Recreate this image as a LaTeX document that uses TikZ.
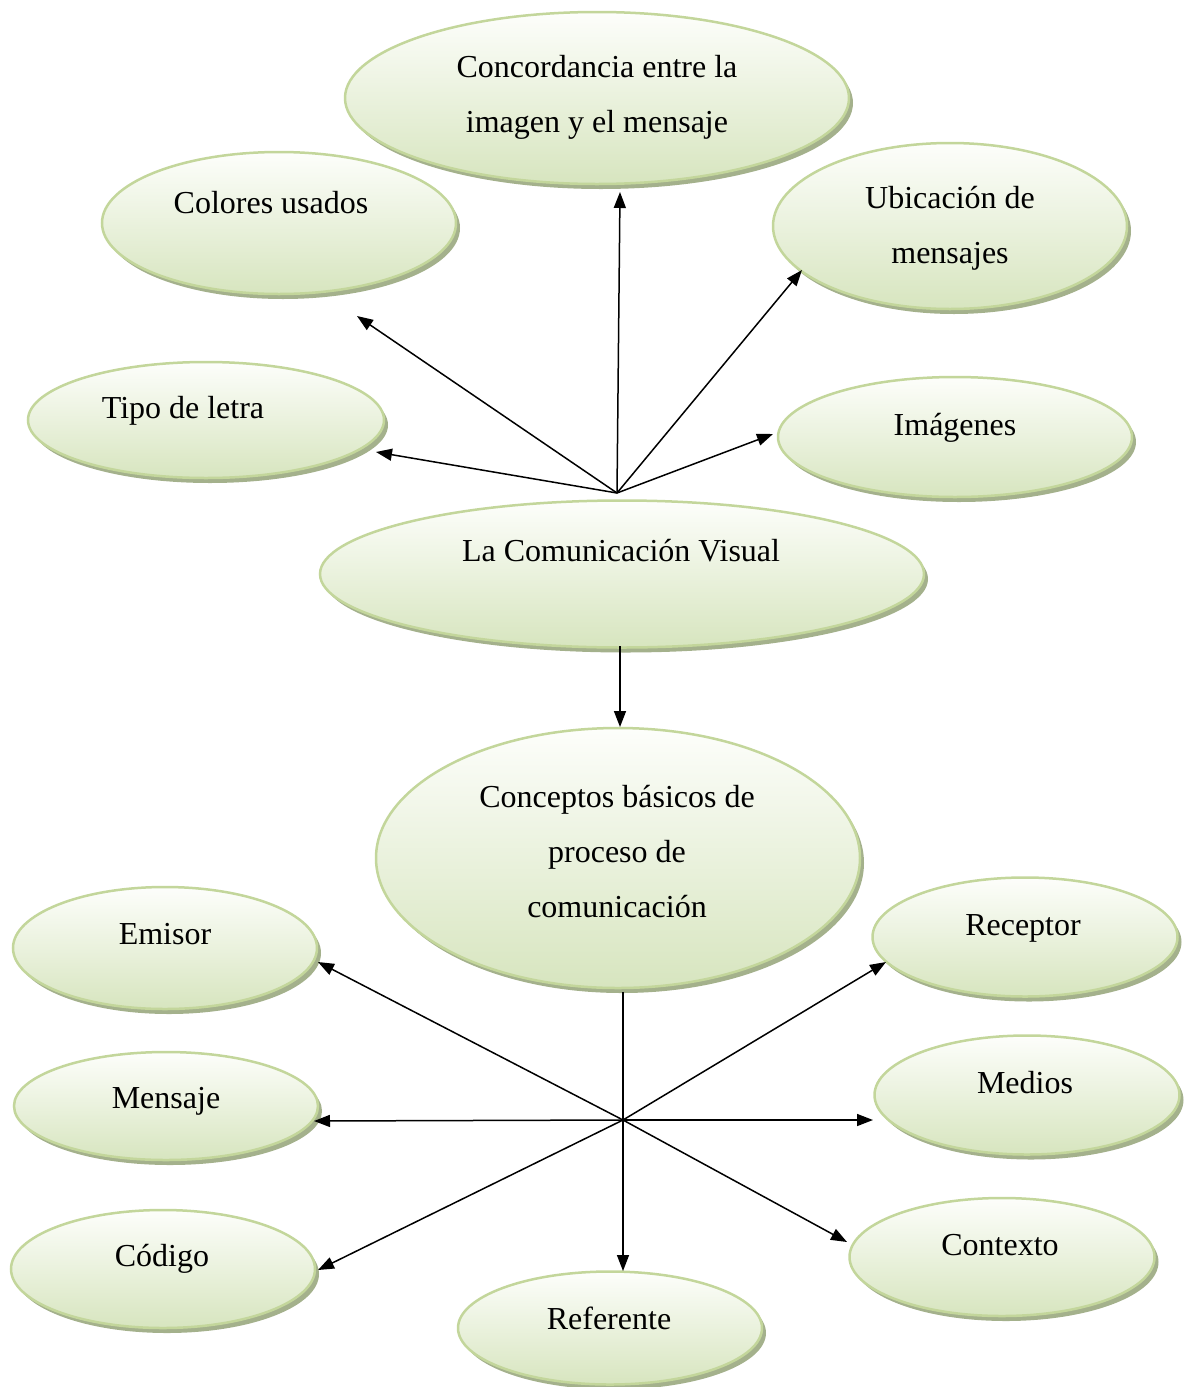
\documentclass[tikz,border=0pt]{standalone}
\usepackage{fontspec}
\setmainfont{Liberation Serif}
\usepackage{xcolor}
\definecolor{bubtop}{HTML}{FDFEFB}
\definecolor{bubbot}{HTML}{D7E5BF}
\definecolor{bubedge}{HTML}{C3D69B}
\definecolor{bubshade}{HTML}{A4B18C}
\usepackage{tikz}
\usetikzlibrary{shapes.geometric, arrows.meta, shadows}

\begin{document}
\begin{tikzpicture}[x=1pt, y=-1pt,
  bubble/.style={ellipse, draw=bubedge, line width=2.5pt, inner sep=0pt,
    top color=bubtop, bottom color=bubbot,
    drop shadow={shadow xshift=4pt, shadow yshift=-5pt, fill=bubshade, opacity=1}},
  txt/.style={align=center, font=\fontsize{32}{55}\selectfont, inner sep=0pt},
  arrow/.style={-{Triangle[length=16pt, width=12pt]}, line width=1.5pt, black}
]
\useasboundingbox (0,0) rectangle (1184,1387);

% upper group
\node[bubble, minimum width=504pt, minimum height=172pt] (conc) at (597,98) {};
\node[txt] (concT) at (597,97) {Concordancia entre la\\imagen y el mensaje};
\node[bubble, minimum width=354pt, minimum height=142pt] (colores) at (279,223) {};
\node[txt] (coloresT) at (271,203) {Colores usados};
\node[bubble, minimum width=354pt, minimum height=166pt] (ubic) at (950,226) {};
\node[txt] (ubicT) at (950,228) {Ubicación de\\mensajes};
\node[bubble, minimum width=356pt, minimum height=116pt] (tipo) at (206,420) {};
\node[txt] (tipoT) at (183,411) {Tipo de letra};
\node[bubble, minimum width=354pt, minimum height=120pt] (imag) at (955,437) {};
\node[txt] (imagT) at (955,428) {Imágenes};

\node[bubble, minimum width=604pt, minimum height=147pt] (comvis) at (622,574) {};
\node[txt] (comvisT) at (621,551) {La Comunicación Visual};

% lower group
\node[bubble, minimum width=484pt, minimum height=260pt] (concep) at (618,858) {};
\node[txt] (concepT) at (617,852) {Conceptos básicos de\\proceso de\\comunicación};
\node[bubble, minimum width=304pt, minimum height=122pt] (emisor) at (165,948) {};
\node[txt] (emisorT) at (165,934) {Emisor};
\node[bubble, minimum width=305pt, minimum height=119pt] (recep) at (1025,937) {};
\node[txt] (recepT) at (1023,928) {Receptor};
\node[bubble, minimum width=304pt, minimum height=108pt] (mensaje) at (166,1106) {};
\node[txt] (mensajeT) at (166,1101) {Mensaje};
\node[bubble, minimum width=305pt, minimum height=119pt] (medios) at (1027,1095) {};
\node[txt] (mediosT) at (1025,1083) {Medios};
\node[bubble, minimum width=304pt, minimum height=118pt] (codigo) at (163,1269) {};
\node[txt] (codigoT) at (162,1259) {Código};
\node[bubble, minimum width=305pt, minimum height=118pt] (contexto) at (1002,1257) {};
\node[txt] (contextoT) at (1000,1245) {Contexto};
\node[bubble, minimum width=304pt, minimum height=113pt] (refer) at (610,1328) {};
\node[txt] (referT) at (609,1318) {Referente};

% hubs and arrow ends
\coordinate (hubup) at (617,493);
\coordinate (hublow) at (623,1120);
\coordinate (concIn) at (620,192);
\coordinate (coloresIn) at (357,316);
\coordinate (ubicIn) at (802,270);
\coordinate (tipoIn) at (376,452);
\coordinate (imagIn) at (773,434);
\coordinate (comvisOut) at (620,646);
\coordinate (concepIn) at (620,727);
\coordinate (concepOut) at (623,992);
\coordinate (emisorIn) at (318,962);
\coordinate (recepIn) at (886,962);
\coordinate (mensajeIn) at (314,1121);
\coordinate (mediosIn) at (873,1120);
\coordinate (codigoIn) at (318,1270);
\coordinate (contextoIn) at (847,1242);
\coordinate (referIn) at (623,1271);

\draw[arrow] (hubup) -- (concIn);
\draw[arrow] (hubup) -- (coloresIn);
\draw[arrow] (hubup) -- (ubicIn);
\draw[arrow] (hubup) -- (tipoIn);
\draw[arrow] (hubup) -- (imagIn);
\draw[arrow] (comvisOut) -- (concepIn);
\draw[line width=1.5pt] (concepOut) -- (hublow);
\draw[arrow] (hublow) -- (emisorIn);
\draw[arrow] (hublow) -- (recepIn);
\draw[arrow] (hublow) -- (mensajeIn);
\draw[arrow] (hublow) -- (mediosIn);
\draw[arrow] (hublow) -- (codigoIn);
\draw[arrow] (hublow) -- (contextoIn);
\draw[arrow] (hublow) -- (referIn);
\end{tikzpicture}
\end{document}
